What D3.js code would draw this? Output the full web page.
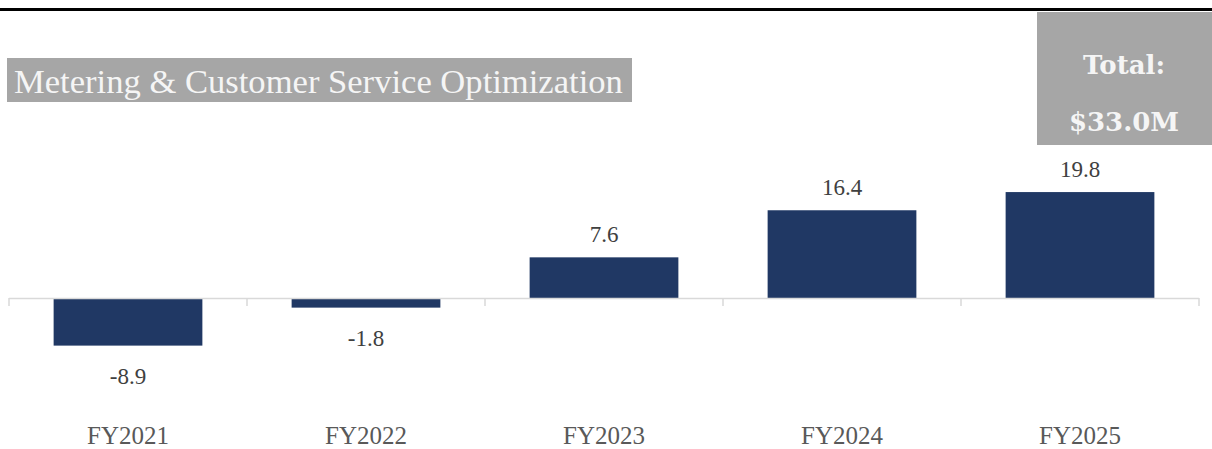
<!DOCTYPE html>
<html>
<head>
<meta charset="utf-8">
<script src="https://d3js.org/d3.v7.min.js"></script>
<style>
  html, body { margin: 0; padding: 0; background: #fff; }
  svg { display: block; }
</style>
</head>
<body>
<div id="chart"></div>
<script>
// values in $ millions
var years = ["FY2021", "FY2022", "FY2023", "FY2024", "FY2025"];
var values = [-8.9, -1.8, 7.6, 16.4, 19.8];
var titleText = "Metering & Customer Service Optimization";
var totalLines = ["Total:", "$33.0M"];

var width = 1212;
var height = 449;

var svg = d3.select("#chart").append("svg")
            .attr("width", width)
            .attr("height", height);

// heavy rule at the top of the slide
svg.append("rect")
   .attr("x", 0).attr("y", 8)
   .attr("width", width).attr("height", 3)
   .attr("fill", "#000");

var x = d3.scaleBand()
          .domain(years)
          .range([9, 1199])
          .paddingInner(0.375)
          .paddingOuter(0.1875);

var zeroY = 298;
var pxPerUnit = 5.35;
var y = d3.scaleLinear()
          .domain([-10, 25])
          .range([zeroY + 10 * pxPerUnit, zeroY - 25 * pxPerUnit]);

// bars
svg.selectAll("rect.bar")
   .data(values)
   .enter().append("rect")
   .attr("class", "bar")
   .attr("x", (d, i) => x(years[i]))
   .attr("width", x.bandwidth())
   .attr("y", d => y(Math.max(0, d)))
   .attr("height", d => Math.abs(y(d) - y(0)))
   .attr("fill", "#203864");

// axis line with ticks between categories
var step = x.step();
var edges = years.map(c => x(c) - step * x.paddingInner() / 2);
edges.push(edges[edges.length - 1] + step);

var axis = svg.append("g").attr("stroke", "#d9d9d9").attr("stroke-width", 1.5);
axis.append("line")
    .attr("x1", edges[0]).attr("x2", edges[edges.length - 1])
    .attr("y1", y(0) + 0.5).attr("y2", y(0) + 0.5);
axis.selectAll("line.tick")
    .data(edges)
    .enter().append("line")
    .attr("class", "tick")
    .attr("x1", d => d).attr("x2", d => d)
    .attr("y1", y(0)).attr("y2", y(0) + 8);

// value labels
svg.selectAll("text.value")
   .data(values)
   .enter().append("text")
   .attr("class", "value")
   .attr("x", (d, i) => x(years[i]) + x.bandwidth() / 2)
   .attr("y", d => d >= 0 ? y(d) - 15 : y(d) + 38)
   .attr("text-anchor", "middle")
   .attr("font-family", "Liberation Serif, serif")
   .attr("font-size", 23)
   .attr("fill", "#404040")
   .text(d => d.toFixed(1));

// category labels
svg.selectAll("text.cat")
   .data(years)
   .enter().append("text")
   .attr("class", "cat")
   .attr("x", d => x(d) + x.bandwidth() / 2)
   .attr("y", 444)
   .attr("text-anchor", "middle")
   .attr("font-family", "Liberation Serif, serif")
   .attr("font-size", 25)
   .attr("fill", "#595959")
   .text(d => d);

// title box
svg.append("rect")
   .attr("x", 7).attr("y", 58)
   .attr("width", 625).attr("height", 44)
   .attr("fill", "#a6a6a6");
svg.append("text")
   .attr("x", 14).attr("y", 93)
   .attr("font-family", "Liberation Serif, serif")
   .attr("font-size", 34.6)
   .attr("fill", "#f5f5f5")
   .text(titleText);

// total box
svg.append("rect")
   .attr("x", 1037).attr("y", 12)
   .attr("width", 175).attr("height", 133)
   .attr("fill", "#a6a6a6");
svg.selectAll("text.total")
   .data(totalLines)
   .enter().append("text")
   .attr("class", "total")
   .attr("x", 1124)
   .attr("y", (d, i) => 74 + i * 57)
   .attr("text-anchor", "middle")
   .attr("font-family", "DejaVu Serif, serif")
   .attr("font-weight", "bold")
   .attr("font-size", 26)
   .attr("fill", "#f5f5f5")
   .text(d => d);
</script>
</body>
</html>
